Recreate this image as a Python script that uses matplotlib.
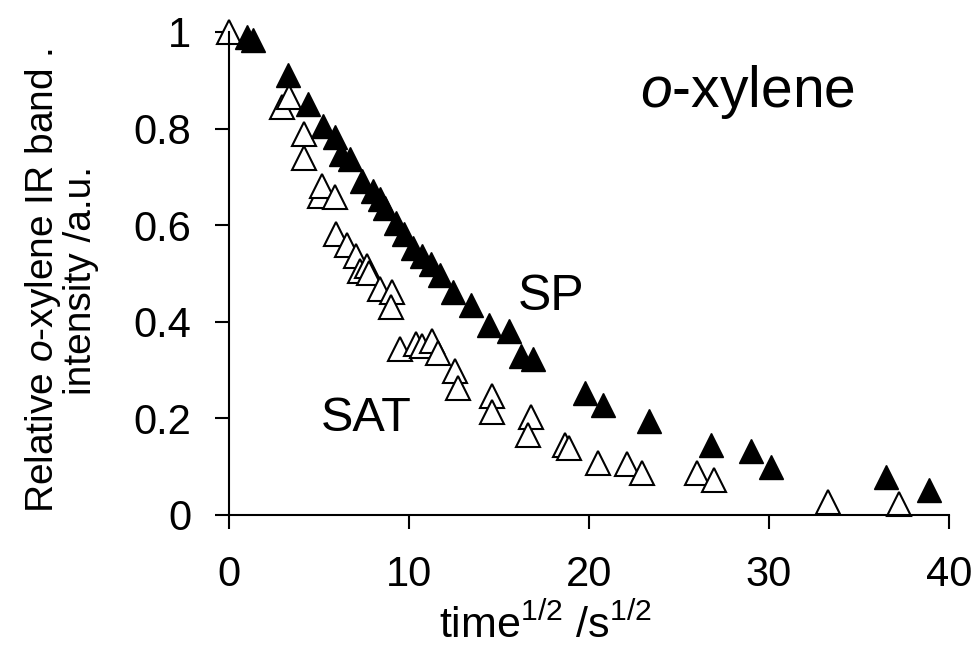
import matplotlib
matplotlib.use("Agg")
import matplotlib.pyplot as plt

# data (x = time^1/2, y = relative band intensity)
sp_x = [1.0, 1.35, 3.3, 4.4, 5.25, 5.9, 6.25, 6.7, 7.4, 8.0, 8.4, 8.65, 9.3, 9.7,
        10.2, 10.7, 11.2, 11.7, 12.45, 13.45, 14.45, 15.55, 16.25, 16.9, 19.8, 20.8,
        23.35, 26.8, 29.0, 30.1, 36.5, 38.9]
sp_y = [0.99, 0.983, 0.911, 0.851, 0.806, 0.783, 0.747, 0.737, 0.691, 0.671, 0.654,
        0.636, 0.605, 0.581, 0.553, 0.536, 0.519, 0.497, 0.462, 0.435, 0.394, 0.38,
        0.33, 0.322, 0.252, 0.228, 0.194, 0.145, 0.133, 0.1, 0.078, 0.052]

sat_x = [0.0, 2.95, 3.35, 4.15, 4.15, 5.05, 5.15, 5.9, 5.95, 6.55, 7.05, 7.3, 7.65, 7.8,
         8.4, 9.05, 9.0, 9.5, 10.4, 10.7, 11.3, 11.6, 12.55, 12.75, 14.6, 14.6,
         16.8, 16.6, 18.65, 18.9, 20.5, 22.1, 22.95, 26.0, 26.95, 33.3, 37.2]
sat_y = [1.0, 0.845, 0.865, 0.789, 0.739, 0.661, 0.681, 0.659, 0.582, 0.559, 0.536,
         0.506, 0.515, 0.50, 0.468, 0.462, 0.43, 0.343, 0.354, 0.35, 0.361, 0.335,
         0.299, 0.263, 0.247, 0.213, 0.203, 0.166, 0.145, 0.138, 0.108, 0.106,
         0.086, 0.086, 0.072, 0.026, 0.023]

x_ticks = [0, 10, 20, 30, 40]
y_ticks = [0, 0.2, 0.4, 0.6, 0.8, 1]
y_tick_labels = ["0", "0.2", "0.4", "0.6", "0.8", "1"]

plt.rcParams["font.family"] = ["Liberation Sans", "DejaVu Sans"]
plt.rcParams["mathtext.fontset"] = "custom"
plt.rcParams["mathtext.rm"] = "Liberation Sans"
plt.rcParams["mathtext.it"] = "Liberation Sans:italic"

fig = plt.figure(figsize=(9.76, 6.62), dpi=100)
ax = fig.add_axes([0.2346, 0.2221, 0.7377, 0.7296])

# open triangles first, filled ones on top
ax.plot(sat_x, sat_y, linestyle="none", marker="^", markersize=17,
        markerfacecolor="white", markeredgecolor="black", markeredgewidth=1.5,
        clip_on=False)
ax.plot(sp_x, sp_y, linestyle="none", marker="^", markersize=17,
        markerfacecolor="black", markeredgecolor="black", markeredgewidth=1.0,
        clip_on=False)

ax.set_xlim(0, 40)
ax.set_ylim(0, 1)
ax.set_xticks(x_ticks)
ax.set_yticks(y_ticks)
ax.set_yticklabels(y_tick_labels)
ax.spines["top"].set_visible(False)
ax.spines["right"].set_visible(False)
for side in ["left", "bottom"]:
    ax.spines[side].set_linewidth(1.5)
ax.tick_params(axis="both", direction="out", length=10, width=1.5, labelsize=30)
ax.tick_params(axis="x", pad=19)
ax.tick_params(axis="y", pad=17)

ax.set_xlabel("time$^{1/2}$ /s$^{1/2}$", fontsize=31)
ax.xaxis.set_label_coords(0.44, -0.185)
ax.set_ylabel("Relative $\\it{o}$-xylene IR band .\nintensity /a.u.", fontsize=28,
              linespacing=1.0)
ax.yaxis.set_label_coords(-0.181, 0.485)

ax.text(28.8, 0.876, "$\\it{o}$-xylene", fontsize=41, ha="center", va="center")
ax.text(17.9, 0.451, "SP", fontsize=36, ha="center", va="center")
ax.text(7.6, 0.2, "SAT", fontsize=35, ha="center", va="center")

fig.savefig("out.png", dpi=100)
